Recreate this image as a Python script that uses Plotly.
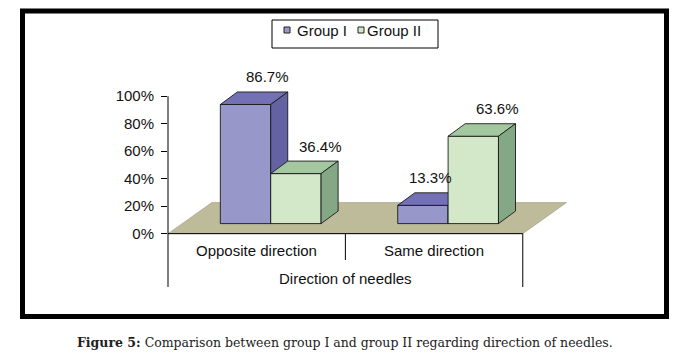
import plotly.graph_objects as go

# ---------------- data ----------------
categories = ["Opposite direction", "Same direction"]
groups = ["Group I", "Group II"]
group1_values = [86.7, 13.3]
group2_values = [36.4, 63.6]
y_tick_values = [0, 20, 40, 60, 80, 100]
y_tick_labels = ["0%", "20%", "40%", "60%", "80%", "100%"]
axis_title = "Direction of needles"
caption = "<b>Figure 5:</b> Comparison between group I and group II regarding direction of needles."

# ---------------- style / layout ----------------
W, H = 679, 356
ML, MR, MT, MB = 168, 103, 88, 121
PW, PH = W - ML - MR, H - MT - MB
XR = [0, 2.3]
YR = [-1, 106]
FONT = "Liberation Sans, Arial, sans-serif"
TXT = "#111111"

front_cols = ["#9897CA", "#D2E8C9"]
top_cols = ["#7371B3", "#A3C8A0"]
side_cols = ["#6362A3", "#84A886"]
floor_col = "#BDBB99"

bar_w = 0.284          # bar width (x units)
gap = 0.216            # gap from category start to bar group (at front of floor)
bar_off_x, bar_off_y = 0.079, 7.3     # bars sit a bit back on the floor
depth_x, depth_y = 0.096, 9.1         # bar depth projection
floor_dx, floor_dy = 0.247, 22.6      # floor depth projection


def xp(px):
    return (px - ML) / PW


def yp(py):
    return (MT + PH - py) / PH


def ydata_to_paper(v):
    return (v - YR[0]) / (YR[1] - YR[0])


fig = go.Figure()

# floor
n = len(categories)
fig.add_trace(go.Scatter(
    x=[0, n, n + floor_dx, floor_dx, 0],
    y=[0, 0, floor_dy, floor_dy, 0],
    fill="toself", fillcolor=floor_col, mode="lines",
    line=dict(color="#9d9b80", width=0.6), hoverinfo="skip", showlegend=False))

series = [group1_values, group2_values]
annotations = []
label_xshift = [[13, 16], [-1, 16]]

for ci, cat in enumerate(categories):
    for gi, vals in enumerate(series):
        v = vals[ci]
        x0 = ci + gap + bar_off_x + gi * bar_w
        x1 = x0 + bar_w
        y0 = bar_off_y
        t = y0 + v
        faces = [
            ([x0, x1, x1, x0, x0], [y0, y0, t, t, y0], front_cols[gi]),
            ([x0, x1, x1 + depth_x, x0 + depth_x, x0], [t, t, t + depth_y, t + depth_y, t], top_cols[gi]),
            ([x1, x1 + depth_x, x1 + depth_x, x1, x1], [y0, y0 + depth_y, t + depth_y, t, y0], side_cols[gi]),
        ]
        for fx, fy, col in faces:
            fig.add_trace(go.Scatter(
                x=fx, y=fy, fill="toself", fillcolor=col, mode="lines",
                line=dict(color="#1a1a1a", width=0.9), hoverinfo="skip",
                showlegend=False, name=groups[gi]))
        annotations.append(dict(
            x=x0 + bar_w / 2 + depth_x / 2, y=t + depth_y, xref="x", yref="y",
            text=f"{v}%", showarrow=False, xanchor="center", yanchor="middle",
            xshift=label_xshift[ci][gi], yshift=15,
            font=dict(family=FONT, size=15, color=TXT)))
    annotations.append(dict(
        x=ci + 0.5, y=yp(251), xref="x", yref="paper", text=cat, showarrow=False,
        xanchor="center", yanchor="middle", font=dict(family=FONT, size=15, color=TXT)))

annotations.append(dict(
    x=n / 2, y=yp(278), xref="x", yref="paper", text=axis_title, showarrow=False,
    xanchor="center", yanchor="middle", font=dict(family=FONT, size=15, color=TXT)))

# legend (drawn manually)
leg_items = [(284, 295), (358, 365)]
shapes = []
shapes.append(dict(type="rect", xref="paper", yref="paper", x0=xp(272), x1=xp(438),
                   y0=yp(48), y1=yp(20), line=dict(color="black", width=1), fillcolor="white"))
for gi, (mx, tx) in enumerate(leg_items):
    shapes.append(dict(type="rect", xref="paper", yref="paper", x0=xp(mx), x1=xp(mx + 6),
                       y0=yp(33), y1=yp(27), line=dict(color="#222", width=1),
                       fillcolor=front_cols[gi]))
    annotations.append(dict(x=xp(tx), y=yp(30.5), xref="paper", yref="paper", text=groups[gi],
                            showarrow=False, xanchor="left", yanchor="middle",
                            font=dict(family=FONT, size=15, color=TXT)))

# axis lines
shapes.append(dict(type="line", xref="paper", yref="paper", x0=0, x1=0,
                   y0=yp(287), y1=ydata_to_paper(100), line=dict(color="black", width=1)))
shapes.append(dict(type="line", xref="x", yref="y", x0=0, x1=n, y0=0, y1=0,
                   line=dict(color="black", width=1)))
for k, bottom in [(1, 260), (2, 287)]:
    shapes.append(dict(type="line", xref="x", yref="paper", x0=k, x1=k,
                       y0=yp(bottom), y1=ydata_to_paper(0), line=dict(color="black", width=1)))

# outer frame
shapes.append(dict(type="rect", xref="paper", yref="paper", x0=xp(22.5), x1=xp(666.5),
                   y0=yp(316.5), y1=yp(11), line=dict(color="black", width=5)))

# caption
annotations.append(dict(x=xp(344.5), y=yp(342), xref="paper", yref="paper", text=caption,
                        showarrow=False, xanchor="center", yanchor="middle",
                        font=dict(family="DejaVu Serif, serif", size=12.5, color="#222")))

fig.update_layout(
    width=W, height=H, margin=dict(l=ML, r=MR, t=MT, b=MB, pad=0),
    paper_bgcolor="white", plot_bgcolor="white", showlegend=False,
    xaxis=dict(visible=False, range=XR, fixedrange=True),
    yaxis=dict(range=YR, tickvals=y_tick_values, ticktext=y_tick_labels, showgrid=False,
               zeroline=False, showline=False, ticks="outside", ticklen=6, tickwidth=1,
               tickcolor="black", ticklabelstandoff=4,
               tickfont=dict(family=FONT, size=15, color=TXT), fixedrange=True),
    shapes=shapes, annotations=annotations,
)

fig.write_html("out.html", config={"displayModeBar": False, "staticPlot": True},
               post_script="document.body.style.margin='0px';document.body.style.padding='0px';")
